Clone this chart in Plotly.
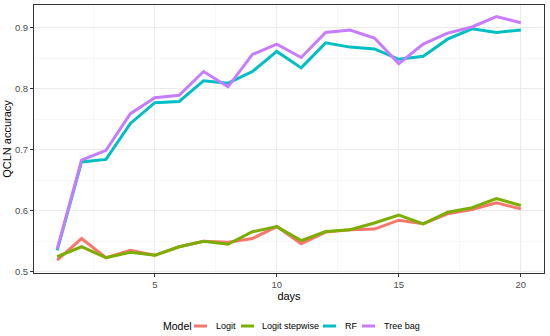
import plotly.graph_objects as go

days = list(range(1, 21))
logit = [0.519, 0.5545, 0.523, 0.535, 0.527, 0.541, 0.550, 0.5485, 0.5545, 0.574,
         0.546, 0.565, 0.569, 0.570, 0.5845, 0.5786, 0.595, 0.602, 0.613, 0.603]
logit_step = [0.5246, 0.541, 0.523, 0.532, 0.527, 0.541, 0.550, 0.545, 0.5655, 0.574,
              0.551, 0.566, 0.569, 0.580, 0.5927, 0.5786, 0.5976, 0.605, 0.620, 0.6086]
rf = [0.535, 0.680, 0.684, 0.743, 0.777, 0.779, 0.813, 0.809, 0.828, 0.861,
      0.834, 0.875, 0.868, 0.865, 0.848, 0.853, 0.881, 0.898, 0.892, 0.896]
tree_bag = [0.537, 0.683, 0.699, 0.759, 0.785, 0.789, 0.828, 0.803, 0.856, 0.873,
            0.851, 0.892, 0.896, 0.883, 0.841, 0.873, 0.891, 0.901, 0.918, 0.908]

series = [("Logit", logit, "#F8766D"),
          ("Logit stepwise", logit_step, "#7CAE00"),
          ("RF", rf, "#00BFC4"),
          ("Tree bag", tree_bag, "#C77CFF")]

W, H = 550, 336
ML, MR, MT, MB = 34, 6, 5, 63
PW, PH = W - ML - MR, H - MT - MB

def px_x(p):
    return (p - ML) / PW

def px_y(p):
    return (H - MB - p) / PH

FONT = "Liberation Sans"

fig = go.Figure()
for name, vals, col in series:
    fig.add_trace(go.Scatter(x=days, y=vals, mode="lines", name=name,
                             line=dict(color=col, width=3), showlegend=False))

axis_common = dict(showgrid=True, gridcolor="#EBEBEB", gridwidth=1,
                   showline=True, linecolor="#333333", linewidth=1, mirror=True,
                   ticks="outside", ticklen=3, tickcolor="#333333",
                   tickfont=dict(size=9.5, color="#4D4D4D", family=FONT),
                   zeroline=False, automargin=False)

fig.update_xaxes(range=[0.05, 20.95], tickvals=[5, 10, 15, 20],
                 minor=dict(tickvals=[2.5, 7.5, 12.5, 17.5], showgrid=True,
                            gridcolor="#F2F2F2", gridwidth=0.6, ticks=""),
                 title=dict(text="days", font=dict(size=11, color="black", family=FONT), standoff=2),
                 **axis_common)
fig.update_yaxes(range=[0.498, 0.937], tickvals=[0.5, 0.6, 0.7, 0.8, 0.9],
                 minor=dict(tickvals=[0.55, 0.65, 0.75, 0.85], showgrid=True,
                            gridcolor="#F2F2F2", gridwidth=0.6, ticks=""),
                 title=dict(text="QCLN accuracy", font=dict(size=11, color="black", family=FONT), standoff=1),
                 **axis_common)

# Manual legend (ggplot-style, bottom)
legend_y = 326
shapes = []
annotations = [dict(text="Model", x=px_x(161), y=px_y(legend_y), xref="paper", yref="paper",
                    xanchor="left", yanchor="middle", showarrow=False,
                    font=dict(size=10.5, color="black", family=FONT))]
key_x = [194, 241, 323, 362]
label_x = [214, 260, 343, 382]
for (name, _, col), kx, lx in zip(series, key_x, label_x):
    shapes.append(dict(type="line", xref="paper", yref="paper",
                       x0=px_x(kx), x1=px_x(kx + 13), y0=px_y(legend_y), y1=px_y(legend_y),
                       line=dict(color=col, width=3)))
    annotations.append(dict(text=name, x=px_x(lx), y=px_y(legend_y), xref="paper", yref="paper",
                            xanchor="left", yanchor="middle", showarrow=False,
                            font=dict(size=9, color="black", family=FONT)))

fig.update_layout(
    width=W, height=H,
    margin=dict(l=ML, r=MR, t=MT, b=MB, autoexpand=False),
    plot_bgcolor="white", paper_bgcolor="white",
    font=dict(family=FONT),
    showlegend=False,
    shapes=shapes, annotations=annotations,
)

fig.write_html("out.html", config={"displayModeBar": False, "staticPlot": True},
               post_script="document.body.style.margin='0';document.body.style.overflow='hidden';")
